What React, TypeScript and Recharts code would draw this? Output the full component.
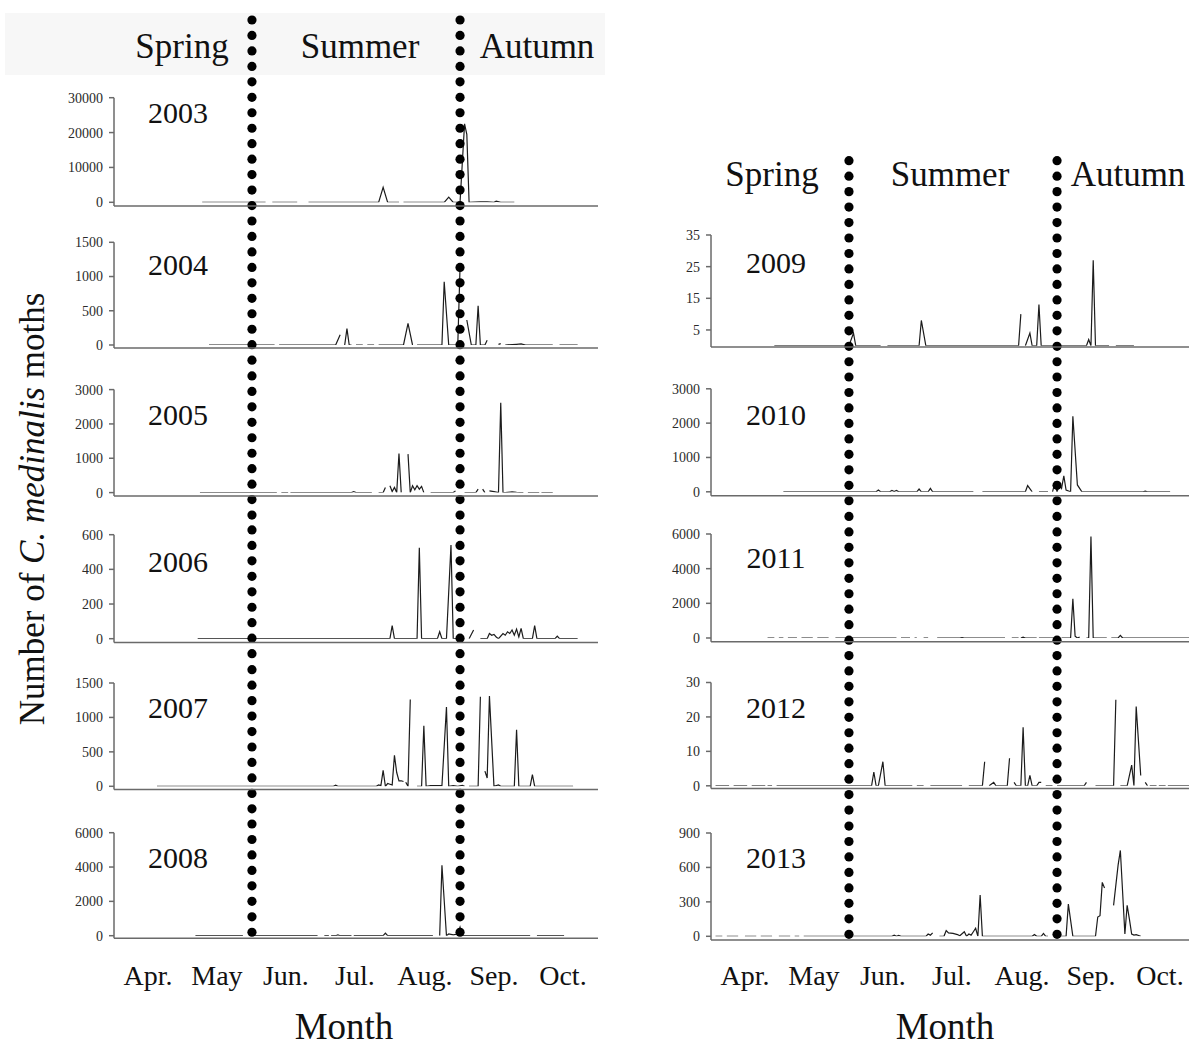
import React from 'react';
import { LineChart, Line, XAxis, YAxis, ReferenceLine } from 'recharts';

// ---------- labels / categories ----------
const monthLabels = ['Apr.', 'May', 'Jun.', 'Jul.', 'Aug.', 'Sep.', 'Oct.'];
// day index counted from 1 April
const monthStartDays = [0, 30, 61, 91, 122, 153, 183, 214];
const monthMidDays = [15, 45.5, 76, 106.5, 137.5, 168, 198.5];
const seasonBoundaryDays = [61, 153];
const seasonLabels = ['Spring', 'Summer', 'Autumn'];

// ---------- series: segments of [day, moths]; gaps between segments = missing data ----------
type Seg = [number, number][];

const y2003: Seg[] = [
  [[39, 0], [67, 0]],
  [[70, 0], [81, 0]],
  [[86, 0], [117, 0], [119, 4300], [121, 0], [126, 0]],
  [[128, 0], [146, 0], [148, 1500], [150, 0], [153, 0], [155, 22500], [156, 19500], [157, 0], [162, 150], [165, 100], [168, 0], [169, 300], [171, 0], [177, 0]],
];

const y2004: Seg[] = [
  [[42, 0], [71, 0]],
  [[73, 0], [98, 0], [100, 150]],
  [[102, 0], [103, 240], [104, 0], [105, 0]],
  [[107, 0], [110, 0]],
  [[112, 0], [115, 0]],
  [[117, 0], [128, 0], [130, 317], [132, 0]],
  [[134, 0], [145, 0], [146, 924], [148, 0], [151, 0], [152, 0], [153, 1130]],
  [[156, 365], [158, 0], [160, 0], [161, 574], [162, 0], [164, 0], [165, 70]],
  [[170, 10], [171, 20]],
  [[173, 0], [178, 10], [180, 15], [182, 0], [194, 0]],
  [[197, 0], [205, 0]],
];

const y2005: Seg[] = [
  [[38, 0], [72, 0]],
  [[74, 0], [77, 0]],
  [[78, 0], [105, 0], [106, 30], [107, 0], [114, 0]],
  [[117, 0], [119, 0], [120, 150]],
  [[122, 200], [123, 30], [124, 150], [125, 0], [126, 1140], [127, 0]],
  [[130, 1120], [131, 0], [132, 200], [133, 80], [134, 200], [135, 100], [136, 180], [137, 0]],
  [[140, 0], [150, 0], [151, 50]],
  [[155, 0], [160, 0], [161, 100]],
  [[163, 100], [164, 0]],
  [[166, 50], [168, 30], [170, 0], [171, 2620], [172, 0], [173, 0], [176, 20], [178, 10], [181, 0]],
  [[183, 0], [188, 0]],
  [[189, 0], [194, 0]],
];

const y2006: Seg[] = [
  [[37, 0], [122, 0], [123, 75], [124, 0], [134, 0], [135, 525], [136, 0], [143, 0], [144, 40], [145, 0], [147, 0], [149, 540], [150, 0], [153, 0]],
  [[157, 0], [159, 50]],
  [[162, 0], [165, 0], [166, 30], [167, 20], [168, 25], [169, 10], [170, 0], [172, 30], [173, 20], [174, 40], [175, 30], [176, 50], [177, 20], [178, 55], [179, 10], [180, 60], [181, 0], [185, 0], [186, 75], [187, 0], [195, 0], [196, 15], [197, 0], [205, 0]],
];

const y2007: Seg[] = [
  [[19, 0], [97, 0], [98, 15], [99, 0], [116, 0], [117, 20], [118, 10], [119, 230], [120, 0], [121, 40], [122, 30], [123, 20], [124, 450], [125, 200], [126, 80], [127, 80], [128, 70]],
  [[129, 60], [130, 0], [131, 1260]],
  [[134, 0], [136, 0], [137, 880], [138, 0], [140, 10], [145, 10], [147, 1150], [148, 0], [150, 10], [152, 0], [154, 15], [155, 0]],
  [[157, 0], [161, 0], [162, 1300]],
  [[164, 220], [165, 120], [166, 1310], [168, 0], [170, 20], [171, 0], [177, 0], [178, 820], [179, 0], [184, 0], [185, 170], [186, 0], [203, 0]],
];

const y2008: Seg[] = [
  [[36, 0], [57, 0]],
  [[61, 0], [90, 0]],
  [[93, 0], [95, 0]],
  [[96, 0], [98, 0], [99, 50], [100, 0], [105, 0]],
  [[106, 0], [119, 0], [120, 150], [121, 0], [141, 0]],
  [[144, 0], [145, 4100], [147, 0], [148, 100], [150, 50], [152, 100], [153, 500], [154, 0], [184, 0]],
  [[187, 0], [199, 0]],
];

const y2009: Seg[] = [
  [[28, 0], [61, 0], [63, 4], [64, 0], [75, 0]],
  [[78, 0], [92, 0], [93, 8], [95, 0], [136, 0], [137, 10]],
  [[139, 0], [141, 4], [142, 0], [144, 0], [145, 13], [146, 0], [166, 0], [167, 2], [168, 0], [169, 27], [170, 0], [176, 0]],
  [[179, 0], [187, 0]],
];

const y2010: Seg[] = [
  [[32, 0], [73, 0], [74, 50], [75, 0], [79, 0], [80, 40], [81, 10], [82, 40], [83, 0], [91, 0], [92, 80], [93, 0], [96, 0], [97, 100], [98, 0], [116, 0]],
  [[120, 0], [139, 0], [140, 180], [142, 0]],
  [[145, 0], [149, 0]],
  [[151, 0], [152, 250], [153, 0], [154, 200], [155, 100], [156, 466], [157, 50], [159, 0], [160, 2200], [162, 200], [164, 0], [191, 0], [192, 20], [193, 0], [203, 0]],
];

const y2011: Seg[] = [
  [[25, 0], [28, 0]],
  [[30, 0], [32, 0]],
  [[34, 0], [38, 0]],
  [[40, 0], [45, 0]],
  [[47, 0], [52, 0]],
  [[55, 0], [82, 0]],
  [[84, 0], [88, 0]],
  [[90, 0], [91, 0]],
  [[94, 0], [96, 0]],
  [[100, 0], [110, 0], [111, 20], [112, 0], [130, 0]],
  [[133, 0], [136, 0]],
  [[137, 0], [138, 50], [139, 0], [144, 0]],
  [[145, 0], [153, 0]],
  [[155, 0], [159, 0], [160, 2265], [161, 100], [162, 0], [163, 50]],
  [[166, 0], [167, 0], [168, 5856], [169, 0], [175, 0]],
  [[177, 0], [180, 0], [181, 150], [182, 0], [214, 0]],
];

const y2012: Seg[] = [
  [[2, 0], [8, 0]],
  [[10, 0], [16, 0]],
  [[18, 0], [24, 0]],
  [[25, 0], [27, 0]],
  [[29, 0], [71, 0], [72, 4], [73, 0], [74, 0], [76, 7], [77, 0], [89, 0]],
  [[91, 0], [94, 0]],
  [[97, 0], [111, 0]],
  [[114, 0], [120, 0], [121, 7]],
  [[123, 0], [125, 1], [126, 0], [131, 0], [132, 8]],
  [[134, 1], [135, 0], [137, 0], [138, 17], [139, 0], [140, 0], [141, 3], [142, 0], [144, 0], [145, 1], [146, 1]],
  [[148, 0], [151, 0]],
  [[153, 0], [165, 0], [166, 1]],
  [[170, 0], [178, 0], [179, 25]],
  [[181, 0], [184, 0], [186, 6], [187, 0], [188, 23], [190, 3]],
  [[192, 1], [193, 0]],
  [[194, 0], [197, 0]],
  [[198, 0], [201, 0]],
  [[202, 0], [214, 0]],
];

const y2013: Seg[] = [
  [[2, 0], [5, 0]],
  [[7, 0], [12, 0]],
  [[15, 0], [20, 0]],
  [[22, 0], [27, 0]],
  [[30, 0], [35, 0]],
  [[37, 0], [39, 0]],
  [[41, 0], [80, 0], [81, 10], [82, 0], [83, 8], [84, 0], [95, 0], [96, 20], [97, 10], [98, 30]],
  [[101, 0], [103, 0], [104, 50], [105, 30], [107, 25], [109, 15], [110, 5], [112, 40], [113, 0], [114, 20], [115, 10], [116, 40], [117, 70], [118, 0], [119, 360], [120, 0], [142, 0], [143, 15], [144, 0], [146, 0], [147, 25], [148, 0], [149, 0]],
  [[153, 0], [157, 0], [158, 280], [160, 0], [170, 0], [171, 168], [172, 180], [173, 470], [174, 420]],
  [[178, 270], [180, 620], [181, 748], [183, 20], [184, 270], [185, 150], [186, 20], [187, 10], [188, 15], [190, 0]],
];

// ---------- y-axis ticks ----------
const t2003 = [0, 10000, 20000, 30000];
const t2004 = [0, 500, 1000, 1500];
const t2005 = [0, 1000, 2000, 3000];
const t2006 = [0, 200, 400, 600];
const t2007 = [0, 500, 1000, 1500];
const t2008 = [0, 2000, 4000, 6000];
const t2009 = [5, 15, 25, 35];
const t2010 = [0, 1000, 2000, 3000];
const t2011 = [0, 2000, 4000, 6000];
const t2012 = [0, 10, 20, 30];
const t2013 = [0, 300, 600, 900];

// ---------- layout ----------
const SERIF = "'Liberation Serif', 'Times New Roman', Times, serif";
const PLOT_W = 484;
const YAXIS_W = 60;
const RIGHT_M = 10;

type Col = { axisX: number; labelX: number; g0: number; sp: number; n: number };
const COLS: Record<string, Col> = {
  L: { axisX: 114, labelX: 178, g0: 20, sp: 15.462, n: 60 },
  R: { axisX: 711, labelX: 776, g0: 160.7, sp: 15.466, n: 51 },
};

type Panel = {
  year: string; segs: Seg[]; ticks: number[]; col: 'L' | 'R';
  topY: number; zeroY: number; axisY: number; band: [number, number]; labelY: number; bottom?: boolean;
};

const panels: Panel[] = [
  { year: '2003', segs: y2003, ticks: t2003, col: 'L', topY: 97.7, zeroY: 202.3, axisY: 206, band: [0, 224], labelY: 113 },
  { year: '2004', segs: y2004, ticks: t2004, col: 'L', topY: 242.3, zeroY: 345, axisY: 348, band: [224, 368.7], labelY: 265 },
  { year: '2005', segs: y2005, ticks: t2005, col: 'L', topY: 389.3, zeroY: 492.3, axisY: 495.7, band: [368.7, 515.3], labelY: 415 },
  { year: '2006', segs: y2006, ticks: t2006, col: 'L', topY: 535, zeroY: 639, axisY: 642.7, band: [515.3, 662.7], labelY: 562 },
  { year: '2007', segs: y2007, ticks: t2007, col: 'L', topY: 682.7, zeroY: 786, axisY: 789.3, band: [662.7, 811], labelY: 708 },
  { year: '2008', segs: y2008, ticks: t2008, col: 'L', topY: 832.7, zeroY: 935.7, axisY: 938.3, band: [811, 1048], labelY: 858, bottom: true },
  { year: '2009', segs: y2009, ticks: t2009, col: 'R', topY: 235, zeroY: 345.8, axisY: 347, band: [0, 368.2], labelY: 263 },
  { year: '2010', segs: y2010, ticks: t2010, col: 'R', topY: 389, zeroY: 492, axisY: 496, band: [368.2, 515], labelY: 415 },
  { year: '2011', segs: y2011, ticks: t2011, col: 'R', topY: 534, zeroY: 638, axisY: 641.7, band: [515, 662.2], labelY: 558 },
  { year: '2012', segs: y2012, ticks: t2012, col: 'R', topY: 682.7, zeroY: 786, axisY: 788.7, band: [662.2, 810.7], labelY: 708 },
  { year: '2013', segs: y2013, ticks: t2013, col: 'R', topY: 832.7, zeroY: 936, axisY: 939.7, band: [810.7, 1048], labelY: 858, bottom: true },
];

function toRows(segs: Seg[]) {
  const rows: { day: number; v: number | null }[] = [];
  segs.forEach((s, i) => {
    s.forEach(([d, v]) => rows.push({ day: d, v }));
    if (i < segs.length - 1) rows.push({ day: s[s.length - 1][0] + 0.5, v: null });
  });
  return rows;
}

const makeDotShape = (col: Col, chartTop: number, b0: number, b1: number) => (props: any) => {
  const x = props.x1;
  const circles: React.ReactElement[] = [];
  for (let k = 0; k < col.n; k++) {
    const g = col.g0 + k * col.sp;
    if (g >= b0 && g < b1) circles.push(<circle key={k} cx={x} cy={g - chartTop} r={4.6} fill="#000" />);
  }
  return <g>{circles}</g>;
};

const LABEL_FS = 28;
const AXIS_STROKE = '#6a6a6a';

function PanelChart({ p }: { p: Panel }) {
  const col = COLS[p.col];
  const chartTop = p.band[0] - 12;
  const chartBottom = p.band[1] + 12;
  const height = chartBottom - chartTop;
  const xh = 6;
  const lh = p.bottom ? 50 : 0;
  const margin = { top: p.topY - chartTop, bottom: chartBottom - p.axisY - xh - lh, left: 0, right: RIGHT_M };
  const rows = toRows(p.segs);
  const maxV = p.ticks[p.ticks.length - 1];
  const minV = p.ticks[0] > 0 ? 0 : p.ticks[0];
  const labelTickMargin = 985 - 0.71 * LABEL_FS - (p.axisY + xh);
  return (
    <div style={{ position: 'absolute', left: col.axisX - YAXIS_W, top: chartTop }}>
      <LineChart width={YAXIS_W + PLOT_W + RIGHT_M} height={height} data={rows} margin={margin}>
        <XAxis
          xAxisId={0}
          dataKey="day"
          type="number"
          domain={[0, 214]}
          ticks={monthStartDays}
          interval={0}
          tick={false}
          tickSize={5}
          height={xh}
          stroke={AXIS_STROKE}
          strokeWidth={1.5}
          allowDataOverflow
        />
        {p.bottom && (
          <XAxis
            xAxisId={1}
            dataKey="day"
            type="number"
            domain={[0, 214]}
            ticks={monthMidDays}
            interval={0}
            axisLine={false}
            tickLine={false}
            tickSize={0}
            tickMargin={labelTickMargin}
            height={lh}
            tick={{ fontSize: LABEL_FS, fill: '#111', fontFamily: SERIF }}
            tickFormatter={(v: number) => monthLabels[monthMidDays.indexOf(v)] ?? ''}
            allowDataOverflow
          />
        )}
        <YAxis
          width={YAXIS_W}
          type="number"
          domain={[minV, maxV]}
          ticks={p.ticks}
          interval={0}
          padding={{ top: 0, bottom: p.axisY - p.zeroY }}
          tickSize={5}
          tickMargin={6}
          stroke={AXIS_STROKE}
          strokeWidth={1.5}
          tick={{ fontSize: 14, fill: '#2a2a2a', fontFamily: SERIF }}
          allowDataOverflow
        />
        <Line
          type="linear"
          dataKey="v"
          stroke="#1c1c1c"
          strokeWidth={1.2}
          dot={false}
          activeDot={false}
          connectNulls={false}
          isAnimationActive={false}
        />
        {seasonBoundaryDays.map((d) => (
          <ReferenceLine
            key={d}
            xAxisId={0}
            x={d}
            shape={makeDotShape(col, chartTop, p.band[0], p.band[1])}
          />
        ))}
      </LineChart>
    </div>
  );
}

export default function App() {
  const headerL = [182, 360, 537];
  const headerR = [772, 950, 1128];
  return (
    <div
      style={{
        position: 'fixed',
        left: 0,
        top: 0,
        width: 1189,
        height: 1048,
        overflow: 'hidden',
        background: '#fff',
        fontFamily: SERIF,
      }}
    >
      <svg width={1189} height={1048} style={{ position: 'absolute', left: 0, top: 0 }}>
        <rect x={5} y={13} width={600} height={62} fill="#f7f7f7" />
        {seasonLabels.map((s, i) => (
          <text key={'l' + s} x={headerL[i]} y={58} textAnchor="middle" fontSize={35} fontFamily={SERIF} fill="#111">
            {s}
          </text>
        ))}
        {seasonLabels.map((s, i) => (
          <text key={'r' + s} x={headerR[i]} y={186} textAnchor="middle" fontSize={35} fontFamily={SERIF} fill="#111">
            {s}
          </text>
        ))}
        {panels.map((p) => (
          <text key={'y' + p.year} x={COLS[p.col].labelX} y={p.labelY + 10} textAnchor="middle" fontSize={30} fontFamily={SERIF} fill="#111">
            {p.year}
          </text>
        ))}
        <text x={344} y={1039} textAnchor="middle" fontSize={37} fontFamily={SERIF} fill="#111">Month</text>
        <text x={945} y={1039} textAnchor="middle" fontSize={37} fontFamily={SERIF} fill="#111">Month</text>
        <text transform="translate(44, 509) rotate(-90)" textAnchor="middle" fontSize={35} fontFamily={SERIF} fill="#111">
          Number of <tspan fontStyle="italic">C. medinalis</tspan> moths
        </text>
      </svg>
      {panels.map((p) => (
        <PanelChart key={p.year} p={p} />
      ))}
    </div>
  );
}
